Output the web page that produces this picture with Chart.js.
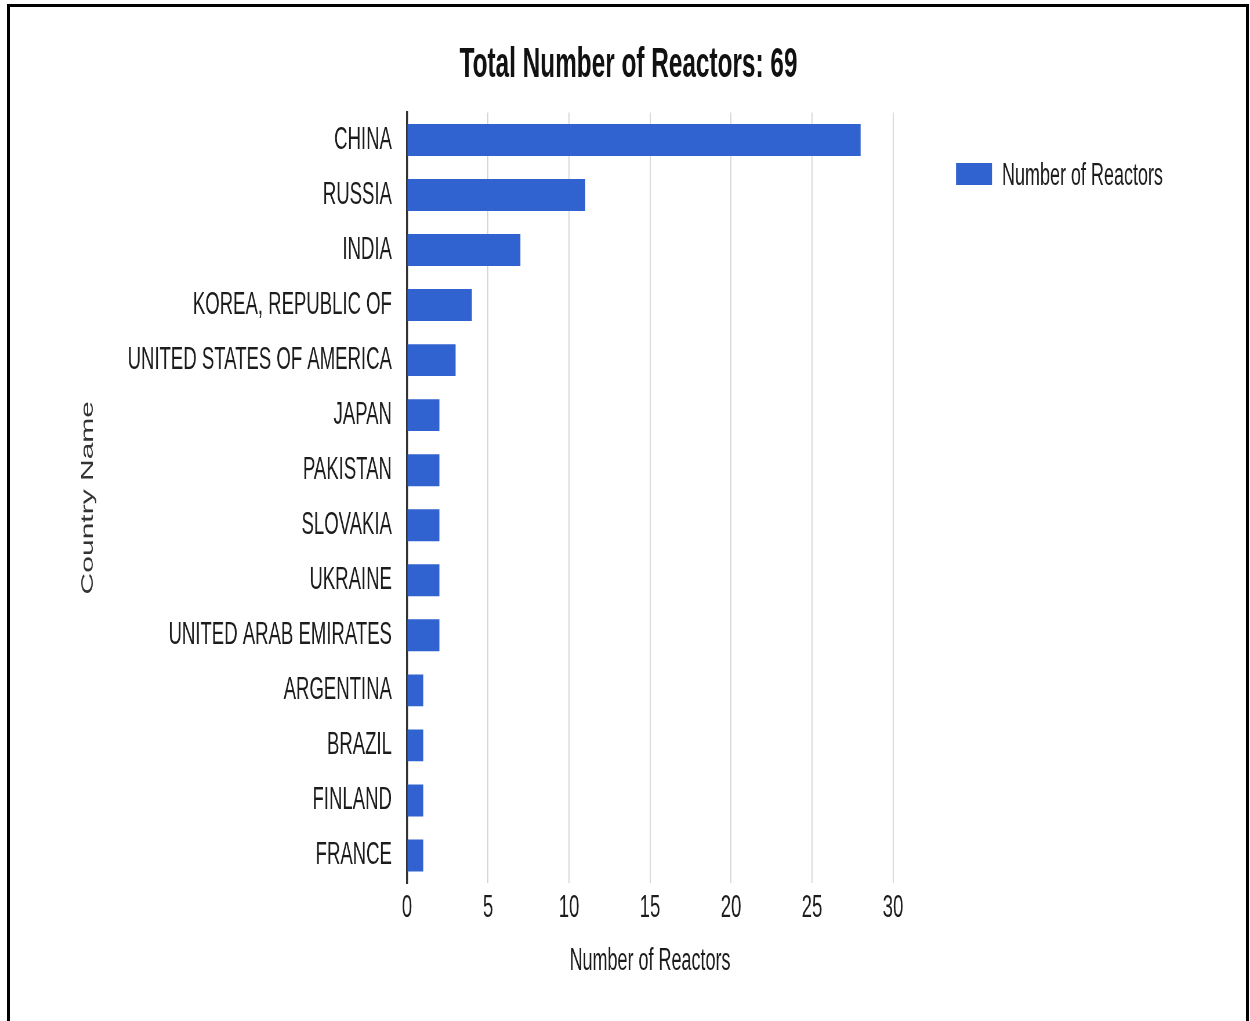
<!DOCTYPE html>
<html>
<head>
<meta charset="utf-8">
<title>Total Number of Reactors</title>
<script src="https://cdn.jsdelivr.net/npm/chart.js@4.4.1/dist/chart.umd.min.js"></script>
<style>
    html, body { margin: 0; padding: 0; background: #fff; overflow: hidden; }
    /* il grafico originale e' schiacciato in orizzontale: lo disegno largo e lo comprimo */
    #contenitore { position: absolute; left: 0; top: 0; width: 2155px; height: 1021px; transform: scaleX(0.58005); transform-origin: 0 0; }
    #cornice { position: absolute; left: 7px; top: 4px; width: 1242px; height: 1100px; border: 3px solid #000; box-sizing: border-box; pointer-events: none; }
</style>
</head>
<body>
<div id="contenitore"><canvas id="grafico" width="2155" height="1021"></canvas></div>
<div id="cornice"></div>
<script>
// Dati
const paesi = [
    "CHINA", "RUSSIA", "INDIA", "KOREA, REPUBLIC OF", "UNITED STATES OF AMERICA",
    "JAPAN", "PAKISTAN", "SLOVAKIA", "UKRAINE", "UNITED ARAB EMIRATES",
    "ARGENTINA", "BRAZIL", "FINLAND", "FRANCE"
];
const reattori = [28, 11, 7, 4, 3, 2, 2, 2, 2, 2, 1, 1, 1, 1];
const tickAsseX = [0, 5, 10, 15, 20, 25, 30];

const titolo = "Total Number of Reactors: 69";
const nomeSerie = "Number of Reactors";
const titoloAsseX = "Number of Reactors";
const titoloAsseY = "Country Name";

// fattore di compressione orizzontale (pixel reali -> pixel interni del canvas)
const S = 1250 / 2155;
const ix = x => x / S;
const larghezza = 2155, altezza = 1021;

Chart.defaults.font.family = "'Liberation Sans', Arial, sans-serif";

// Legenda disegnata a mano a destra, in alto
const legendaManuale = {
    id: "legendaManuale",
    afterDraw(chart) {
        const ctx = chart.ctx;
        const ds = chart.data.datasets[0];
        ctx.save();
        ctx.fillStyle = ds.backgroundColor;
        ctx.fillRect(ix(956), 163, ix(992) - ix(956), 22);
        ctx.fillStyle = "#1c1c1c";
        ctx.font = "31px 'Liberation Sans', Arial, sans-serif";
        ctx.textBaseline = "middle";
        ctx.textAlign = "left";
        ctx.fillText(ds.label, ix(1002), 176);
        ctx.restore();
    }
};

const ctx = document.getElementById("grafico").getContext("2d");
new Chart(ctx, {
    type: "bar",
    data: {
        labels: paesi,
        datasets: [{
            label: nomeSerie,
            data: reattori,
            backgroundColor: "#3062d0",
            borderWidth: 0,
            barPercentage: 0.58,
            categoryPercentage: 1,
            xAxisID: "x",
            yAxisID: "y"
        }]
    },
    options: {
        indexAxis: "y",
        responsive: false,
        animation: false,
        layout: { padding: { left: 12, right: 0, top: 0, bottom: 0 } },
        plugins: {
            legend: { display: false },
            tooltip: { enabled: false },
            title: {
                display: true,
                text: titolo,
                color: "#111",
                font: { size: 42, weight: "bold" },
                padding: { top: 40, bottom: 22 }
            }
        },
        scales: {
            x: {
                type: "linear",
                position: "bottom",
                min: 0,
                max: 30,
                afterBuildTicks: s => { s.ticks = tickAsseX.map(v => ({ value: v })); },
                afterFit: s => { s.height = altezza - 883; },
                grid: { color: "#d4d4d4", lineWidth: 1.8, drawTicks: false },
                border: { display: false },
                ticks: { color: "#1c1c1c", font: { size: 32 }, padding: 6 },
                title: {
                    display: true,
                    text: titoloAsseX,
                    color: "#1c1c1c",
                    font: { size: 31 },
                    padding: { top: 0, bottom: 41 }
                }
            },
            y: {
                type: "category",
                position: "left",
                z: 1,
                afterFit: s => { s.width = ix(407) - 12; },
                grid: { display: false, drawTicks: false },
                border: { display: true, color: "#333", width: 3.4 },
                ticks: { color: "#1c1c1c", font: { size: 32 }, padding: 26 },
                title: {
                    display: true,
                    text: titoloAsseY,
                    color: "#333",
                    font: { size: 30 },
                    padding: { top: 122, bottom: 0 }
                }
            },
            destra: {
                type: "linear",
                axis: "y",
                position: "right",
                afterFit: s => { s.width = larghezza - ix(893); },
                grid: { display: false },
                border: { display: false },
                ticks: { display: false }
            }
        }
    },
    plugins: [legendaManuale]
});
</script>
</body>
</html>
